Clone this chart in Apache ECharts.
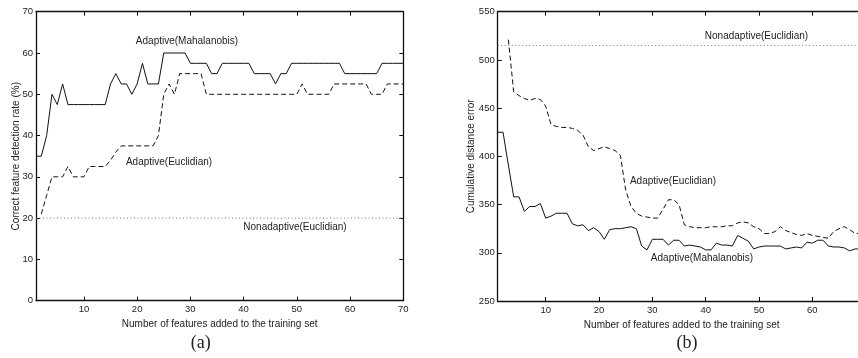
<!DOCTYPE html>
<html>
<head>
<meta charset="utf-8">
<script src="https://cdn.jsdelivr.net/npm/echarts@6/dist/echarts.min.js"></script>
<style>
html,body{margin:0;padding:0;background:#fff;}
#chart{width:858px;height:358px;}
</style>
</head>
<body>
<div id="chart"></div>
<script>
// ---- data ----
const features = [1,2,3,4,5,6,7,8,9,10,11,12,13,14,15,16,17,18,19,20,21,22,23,24,25,26,27,28,29,30,31,32,33,34,35,36,37,38,39,40,41,42,43,44,45,46,47,48,49,50,51,52,53,54,55,56,57,58,59,60,61,62,63,64,65,66,67,68,69,70];
const xTicks = [10,20,30,40,50,60,70];

// (a) correct feature detection rate (%)
const rateMahalanobis = [35,35,40,50,47.5,52.5,47.5,47.5,47.5,47.5,47.5,47.5,47.5,47.5,52.5,55,52.5,52.5,50,52.5,57.5,52.5,52.5,52.5,60,60,60,60,60,57.5,57.5,57.5,57.5,55,55,57.5,57.5,57.5,57.5,57.5,57.5,55,55,55,55,52.5,55,55,57.5,57.5,57.5,57.5,57.5,57.5,57.5,57.5,57.5,57.5,55,55,55,55,55,55,55,57.5,57.5,57.5,57.5,57.5];
const rateEuclidean = [null,21,25.5,30,30,30,32.5,30,30,30,32.5,32.5,32.5,32.5,34,36,37.5,37.5,37.5,37.5,37.5,37.5,37.5,40,50,52.5,50,55,55,55,55,55,50,50,50,50,50,50,50,50,50,50,50,50,50,50,50,50,50,50,52.5,50,50,50,50,50,52.5,52.5,52.5,52.5,52.5,52.5,52.5,50,50,50,52.5,52.5,52.5,52.5];
const rateNonadaptive = 20;

// (b) cumulative distance error
const errMahalanobis = [425,425,391,358,358,343,348,348,351,336,338,341,341,341,330,328,329,323,326,322,314,324,325,325,326,327,325,307,303,314,314,314,308,313,313,307,308,307,306,303,303,310,308,308,307,318,315,312,304,306,307,307,307,307,304,305,306,305,311,310,313,313,307,306,306,305,302,304,304,304];
const errEuclidean = [null,null,521,467,463,460,458,460,459,452,433,431,430,430,429,427,422,410,406,408,410,408,406,401,365,348,341,338,337,336,336,345,355,355,350,329,327,326,326,326,327,327,327,328,328,331,332,331,327,325,320,320,322,327,323,321,319,318,320,318,317,316,315,322,325,327,324,320,320,320];
const errNonadaptive = 515;

// ---- helpers ----
const pairs = (vals) => features.map((x, i) => [x, vals[i]]);
const FONT = '"Liberation Sans", Arial, Helvetica, sans-serif';
const INK = '#111';

function xAxes(grid) {
  const base = {
    type: 'value', gridIndex: grid, min: 1, max: 70,
    axisLine: { show: true, onZero: false, lineStyle: { color: INK, width: 1.3 } },
    axisTick: { show: true, inside: true, length: 4, customValues: xTicks, lineStyle: { color: INK } },
    splitLine: { show: false }
  };
  return [
    Object.assign({}, base, {
      position: 'bottom',
      axisLabel: { show: true, customValues: xTicks, margin: 4, fontSize: 9.5, color: '#222', fontFamily: FONT },
      name: 'Number of features added to the training set',
      nameLocation: 'middle', nameGap: 15,
      nameTextStyle: { fontSize: 10, color: '#222', fontFamily: FONT }
    }),
    Object.assign({}, base, { position: 'top', axisLabel: { show: false } })
  ];
}

function yAxes(grid, min, max, interval, name, gap) {
  const base = {
    type: 'value', gridIndex: grid, min: min, max: max, interval: interval,
    axisLine: { show: true, onZero: false, lineStyle: { color: INK, width: 1.3 } },
    axisTick: { show: true, inside: true, length: 4, lineStyle: { color: INK } },
    splitLine: { show: false }
  };
  return [
    Object.assign({}, base, {
      position: 'left',
      axisLabel: { show: true, margin: 3, fontSize: 9.5, color: '#222', fontFamily: FONT },
      name: name, nameLocation: 'middle', nameGap: gap, nameMoveOverlap: false,
      nameTextStyle: { fontSize: 10, color: '#222', fontFamily: FONT }
    }),
    Object.assign({}, base, { position: 'right', axisLabel: { show: false } })
  ];
}

function line(xi, yi, data, dash, color) {
  return {
    type: 'line', xAxisIndex: xi, yAxisIndex: yi, data: data,
    showSymbol: false, symbol: 'none', connectNulls: false, animation: false,
    lineStyle: { color: color, width: 1, type: dash },
    z: 3
  };
}

const chart = echarts.init(document.getElementById('chart'), null, { renderer: 'canvas' });

const xa = xAxes(0).concat(xAxes(1));
const ya = yAxes(0, 0, 70, 10, 'Correct feature detection rate (%)', 15)
  .concat(yAxes(1, 250, 550, 50, 'Cumulative distance error', 21));

function txt(x, y, s, size, family) {
  return {
    type: 'text', x: x, y: y, z: 10,
    style: { text: s, fontSize: size || 10, fontFamily: family || FONT, fill: '#222', align: 'center', verticalAlign: 'middle' }
  };
}

chart.setOption({
  backgroundColor: '#fff',
  animation: false,
  grid: [
    { left: 36, width: 367.3, top: 11.7, height: 289, outerBoundsMode: 'none', containLabel: false },
    { left: 497.7, width: 368, top: 11.7, height: 289.3, outerBoundsMode: 'none', containLabel: false }
  ],
  xAxis: xa,
  yAxis: ya,
  series: [
    line(0, 0, pairs(rateMahalanobis), 'solid', INK),
    line(0, 0, pairs(rateEuclidean), [5, 3], INK),
    line(0, 0, [[features[0], rateNonadaptive], [features[features.length - 1], rateNonadaptive]], [1, 2.5], '#777'),
    line(2, 2, pairs(errMahalanobis), 'solid', INK),
    line(2, 2, pairs(errEuclidean), [5, 3], INK),
    line(2, 2, [[features[0], errNonadaptive], [features[features.length - 1], errNonadaptive]], [1, 2.5], '#777')
  ],
  graphic: [
    txt(187, 41, 'Adaptive(Mahalanobis)'),
    txt(169, 162, 'Adaptive(Euclidian)'),
    txt(295, 227, 'Nonadaptive(Euclidian)'),
    txt(756.5, 36, 'Nonadaptive(Euclidian)'),
    txt(673, 181, 'Adaptive(Euclidian)'),
    txt(702, 258, 'Adaptive(Mahalanobis)'),
    txt(200.7, 343, '(a)', 18, '"Liberation Serif", "Times New Roman", serif'),
    txt(687, 343, '(b)', 18, '"Liberation Serif", "Times New Roman", serif')
  ]
});
</script>
</body>
</html>
